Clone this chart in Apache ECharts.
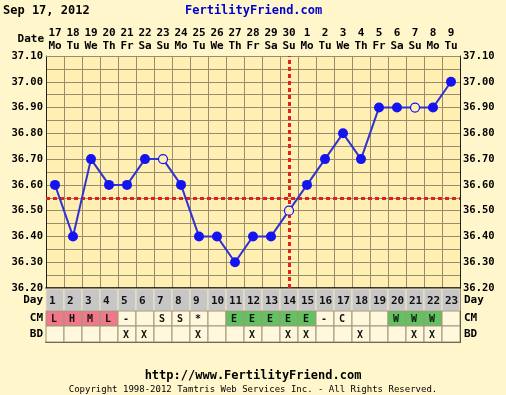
<!DOCTYPE html>
<html>
<head>
<meta charset="utf-8">
<script src="https://cdn.jsdelivr.net/npm/echarts@6/dist/echarts.min.js"></script>
<style>
html,body{margin:0;padding:0;background:#FFF6CC;}
#chart{width:506px;height:395px;}
</style>
</head>
<body>
<div id="chart"></div>
<script>
// ---- data ----
const dates = ['17','18','19','20','21','22','23','24','25','26','27','28','29','30','1','2','3','4','5','6','7','8','9'];
const weekdays = ['Mo','Tu','We','Th','Fr','Sa','Su','Mo','Tu','We','Th','Fr','Sa','Su','Mo','Tu','We','Th','Fr','Sa','Su','Mo','Tu'];
const cycleDays = ['1','2','3','4','5','6','7','8','9','10','11','12','13','14','15','16','17','18','19','20','21','22','23'];
const temps = [36.60,36.40,36.70,36.60,36.60,36.70,36.70,36.60,36.40,36.40,36.30,36.40,36.40,36.50,36.60,36.70,36.80,36.70,36.90,36.90,36.90,36.90,37.00];
const openDays = [7,14,21];
const coverLine = 36.55;
const ovulationDay = 14;
const cm = ['L','H','M','L','-','','S','S','*','','E','E','E','E','E','-','C','','','W','W','W',''];
const bd = ['','','','','X','X','','','X','','','X','','X','X','','','X','','','X','X',''];
const yTicks = [36.20,36.30,36.40,36.50,36.60,36.70,36.80,36.90,37.00,37.10];

// ---- styling ----
const FONT = '"DejaVu Sans Mono","Liberation Mono",monospace';
const outerBg = '#FFF6CC', plotBg = '#FFEFB3', cellBg = '#FFF8DC';
const gridCol = '#978C6C';
const pink = '#F0788A', green = '#62C262', gray = '#C6C6C6';
const blue = '#1414F0', lineBlue = '#3232D2', red = '#DD2222';

const chart = echarts.init(document.getElementById('chart'), null, {renderer:'canvas'});

const lbl = {fontFamily:FONT, fontWeight:'bold', fontSize:10, color:'#000'};

function cmColor(v){ if(v==='L'||v==='H'||v==='M') return pink; if(v==='E'||v==='W') return green; return cellBg; }

function rowRender(kind){
  return function(params, api){
    const i = api.value(0);
    const p = api.coord([i, 0]);
    const w = api.size([1,0])[0];
    const cs = params.coordSys;
    let fill, txt, stroke;
    if(kind==='day'){ fill = gray; txt = cycleDays[i]; stroke = '#EFE6C4'; }
    else if(kind==='cm'){ fill = cmColor(cm[i]); txt = cm[i]; stroke = '#A0967A'; }
    else { fill = cellBg; txt = bd[i]; stroke = '#A0967A'; }
    const x0 = p[0]-w/2;
    return {type:'group', children:[
      {type:'rect', shape:{x:x0, y:cs.y, width:w, height:cs.height}, style:{fill:fill, stroke:stroke, lineWidth:1}},
      {type:'text', style:{text:txt, x:x0+(kind==='day'?3:5), y:cs.y+cs.height/2+1, align:'left', verticalAlign:'middle',
        font:'bold '+(kind==='day'?'11px ':'10px ')+FONT, fill:'#111'}}
    ]};
  };
}

const idx = cycleDays.map((d,i)=>[i]);
const tempData = temps.map((t,i)=>{
  const open = openDays.indexOf(i+1) >= 0;
  return open ? {value:t, symbolSize:9, itemStyle:{color:plotBg, borderColor:blue, borderWidth:1.2}} : {value:t};
});

const rowGrids = [
  {left:46, top:289, width:414, height:22, name:'Day', kind:'day'},
  {left:46, top:311, width:414, height:15, name:'CM', kind:'cm'},
  {left:46, top:326, width:414, height:16, name:'BD', kind:'bd'}
];

const option = {
  backgroundColor: outerBg,
  animation:false,
  grid:[{left:46, top:56, width:414, height:232, show:true, backgroundColor:plotBg, borderWidth:0}]
    .concat(rowGrids.map(g=>({left:g.left, top:g.top, width:g.width, height:g.height, borderWidth:0}))),
  xAxis:[
    {type:'category', gridIndex:0, position:'top', data:dates, boundaryGap:true,
     axisLine:{show:true, lineStyle:{color:gridCol, width:1}}, axisTick:{show:false},
     axisLabel:{interval:0, margin:3, lineHeight:13, fontFamily:FONT, fontWeight:'bold', fontSize:11, color:'#000',
       formatter:(v,i)=>v+'\n'+weekdays[i]},
     splitLine:{show:true, lineStyle:{color:gridCol, width:1}}},
    {type:'category', gridIndex:0, position:'bottom', data:dates, boundaryGap:true,
     axisLine:{show:true, lineStyle:{color:'#000', width:1.5}}, axisTick:{show:false}, axisLabel:{show:false}}
  ].concat(rowGrids.map((g,k)=>({type:'category', gridIndex:k+1, data:cycleDays, boundaryGap:true,
     axisLine:{show:k===2, lineStyle:{color:'#000', width:1.5}}, axisTick:{show:false}, axisLabel:{show:false}, splitLine:{show:false}}))),
  yAxis:[
    {type:'value', gridIndex:0, position:'left', min:36.2, max:37.1, interval:0.1,
     axisLine:{show:true, lineStyle:{color:'#222', width:1}}, axisTick:{show:false},
     axisLabel:{margin:3, ...lbl, fontSize:10.5, formatter:v=>v.toFixed(2)},
     splitLine:{show:true, lineStyle:{color:gridCol, width:1}},
     minorTick:{show:false, splitNumber:2}, minorSplitLine:{show:true, lineStyle:{color:gridCol, width:1}}},
    {type:'value', gridIndex:0, position:'right', min:36.2, max:37.1, interval:0.1,
     axisLine:{show:true, lineStyle:{color:'#222', width:1}}, axisTick:{show:false},
     axisLabel:{margin:3, ...lbl, fontSize:10.5, formatter:v=>v.toFixed(2)}, splitLine:{show:false}}
  ].concat(rowGrids.flatMap((g,k)=>[
    {type:'category', gridIndex:k+1, position:'left', data:[g.name],
     axisLine:{show:true, lineStyle:{color:'#333', width:1}}, axisTick:{show:false},
     axisLabel:{margin:3, ...lbl, fontSize:11}},
    {type:'category', gridIndex:k+1, position:'right', data:[g.name],
     axisLine:{show:true, lineStyle:{color:'#222', width:1}}, axisTick:{show:false},
     axisLabel:{margin:4, ...lbl, fontSize:11}}
  ])),
  series:[
    {type:'line', xAxisIndex:0, yAxisIndex:0, data:tempData, symbol:'circle', symbolSize:10,
     lineStyle:{color:lineBlue, width:2}, itemStyle:{color:blue}, z:5,
     markLine:{silent:true, symbol:'none', label:{show:false}, z:3,
       lineStyle:{color:red, width:3, type:[4,3]},
       data:[{yAxis:coverLine}, {xAxis:dates[ovulationDay-1]}]}}
  ].concat(rowGrids.map((g,k)=>({type:'custom', xAxisIndex:k+2, yAxisIndex:2+k*2, data:idx,
     encode:{x:0}, renderItem:rowRender(g.kind), z:2}))),
  graphic:[
    {type:'text', left:3, top:5, style:{text:'Sep 17, 2012', font:'bold 12px '+FONT, fill:'#000'}},
    {type:'text', left:185, top:5, style:{text:'FertilityFriend.com', font:'bold 12px '+FONT, fill:'#0000CC'}},
    {type:'text', right:462, top:34, style:{text:'Date', font:'bold 11px '+FONT, fill:'#000'}},
    {type:'text', left:'center', top:370, style:{text:'http://www.FertilityFriend.com', font:'bold 12px '+FONT, fill:'#000'}},
    {type:'text', left:'center', top:385, style:{text:'Copyright 1998-2012 Tamtris Web Services Inc. - All Rights Reserved.', font:'9px '+FONT, fill:'#000'}}
  ]
};
chart.setOption(option);
</script>
</body>
</html>
